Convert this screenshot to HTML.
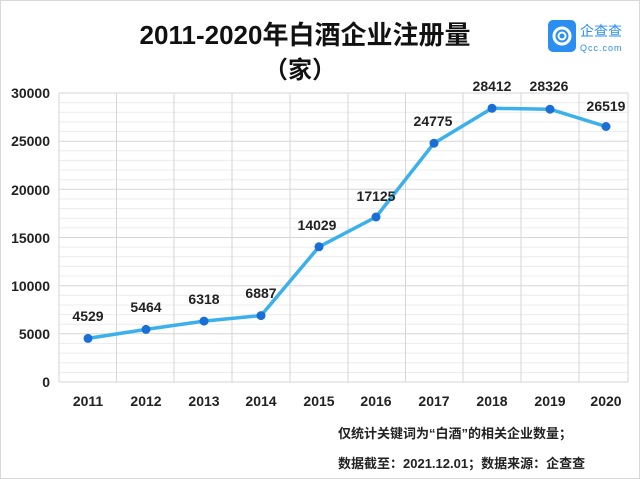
<!DOCTYPE html>
<html><head><meta charset="utf-8"><style>
body{margin:0;background:#fff;}
svg{display:block;font-family:"Liberation Sans","Noto Sans CJK SC",sans-serif;}
</style></head><body>
<svg width="640" height="479" viewBox="0 0 640 479">
<rect x="0.5" y="0.5" width="639" height="478" fill="#fff" stroke="#d8d8d8"/>
<text x="305" y="44" text-anchor="middle" font-size="26" font-weight="bold" fill="#111">2011-2020年白酒企业注册量</text>
<text x="300" y="78" text-anchor="middle" font-size="24" font-weight="bold" fill="#111">（家）</text>
<rect x="548" y="20" width="28" height="32" rx="5" fill="#2a8ff0"/>
<circle cx="562" cy="36" r="8" fill="none" stroke="#fff" stroke-width="3"/>
<circle cx="562" cy="36" r="3.5" fill="none" stroke="#fff" stroke-width="2"/>
<text x="580" y="36" font-size="14" fill="#2a8ff0">企查查</text>
<text x="580" y="51" font-size="9" fill="#2a8ff0" letter-spacing="1">Qcc.com</text>
<g stroke="#ececec" stroke-width="1">
<line x1="59" x2="628" y1="372.4" y2="372.4"/><line x1="59" x2="628" y1="362.7" y2="362.7"/><line x1="59" x2="628" y1="353.1" y2="353.1"/><line x1="59" x2="628" y1="343.5" y2="343.5"/>
<line x1="59" x2="628" y1="324.2" y2="324.2"/><line x1="59" x2="628" y1="314.6" y2="314.6"/><line x1="59" x2="628" y1="305" y2="305"/><line x1="59" x2="628" y1="295.3" y2="295.3"/>
<line x1="59" x2="628" y1="276" y2="276"/><line x1="59" x2="628" y1="266.4" y2="266.4"/><line x1="59" x2="628" y1="256.8" y2="256.8"/><line x1="59" x2="628" y1="247.1" y2="247.1"/>
<line x1="59" x2="628" y1="227.9" y2="227.9"/><line x1="59" x2="628" y1="218.2" y2="218.2"/><line x1="59" x2="628" y1="208.6" y2="208.6"/><line x1="59" x2="628" y1="199" y2="199"/>
<line x1="59" x2="628" y1="179.7" y2="179.7"/><line x1="59" x2="628" y1="170" y2="170"/><line x1="59" x2="628" y1="160.4" y2="160.4"/><line x1="59" x2="628" y1="150.8" y2="150.8"/>
<line x1="59" x2="628" y1="131.5" y2="131.5"/><line x1="59" x2="628" y1="121.9" y2="121.9"/><line x1="59" x2="628" y1="112.2" y2="112.2"/><line x1="59" x2="628" y1="102.6" y2="102.6"/>
</g>
<g stroke="#d6d6d6" stroke-width="1">
<line x1="59" x2="628" y1="333.8" y2="333.8"/><line x1="59" x2="628" y1="285.7" y2="285.7"/><line x1="59" x2="628" y1="237.5" y2="237.5"/><line x1="59" x2="628" y1="189.3" y2="189.3"/><line x1="59" x2="628" y1="141.2" y2="141.2"/><line x1="59" x2="628" y1="93" y2="93"/>
<line x1="59" x2="59" y1="93" y2="382"/><line x1="116.5" x2="116.5" y1="93" y2="382"/><line x1="174" x2="174" y1="93" y2="382"/><line x1="232" x2="232" y1="93" y2="382"/><line x1="290" x2="290" y1="93" y2="382"/><line x1="348" x2="348" y1="93" y2="382"/><line x1="405.5" x2="405.5" y1="93" y2="382"/><line x1="463" x2="463" y1="93" y2="382"/><line x1="521" x2="521" y1="93" y2="382"/><line x1="579" x2="579" y1="93" y2="382"/><line x1="628" x2="628" y1="93" y2="382"/>
<line x1="59" x2="628" y1="382" y2="382"/>
</g>
<g font-size="14" font-weight="bold" fill="#222" text-anchor="end">
<text x="50" y="387">0</text><text x="50" y="339">5000</text><text x="50" y="291">10000</text><text x="50" y="243">15000</text><text x="50" y="195">20000</text><text x="50" y="146">25000</text><text x="50" y="98">30000</text>
</g>
<g font-size="14" font-weight="bold" fill="#222" text-anchor="middle">
<text x="88" y="406">2011</text><text x="146" y="406">2012</text><text x="204" y="406">2013</text><text x="261" y="406">2014</text><text x="319" y="406">2015</text><text x="376" y="406">2016</text><text x="434" y="406">2017</text><text x="492" y="406">2018</text><text x="550" y="406">2019</text><text x="606" y="406">2020</text>
</g>
<polyline fill="none" stroke="#3bb0ea" stroke-width="3.5" stroke-linejoin="round" points="88,338.4 146,329.4 204,321.1 261,315.6 319,246.8 376,217 434,143.2 492,108.3 550,109.2 606,126.5"/>
<g fill="#1a6fd6">
<circle cx="88" cy="338.4" r="4.5"/><circle cx="146" cy="329.4" r="4.5"/><circle cx="204" cy="321.1" r="4.5"/><circle cx="261" cy="315.6" r="4.5"/><circle cx="319" cy="246.8" r="4.5"/><circle cx="376" cy="217" r="4.5"/><circle cx="434" cy="143.2" r="4.5"/><circle cx="492" cy="108.3" r="4.5"/><circle cx="550" cy="109.2" r="4.5"/><circle cx="606" cy="126.5" r="4.5"/>
</g>
<g font-size="14" font-weight="bold" fill="#222" text-anchor="middle">
<text x="88" y="321">4529</text><text x="146" y="312">5464</text><text x="204" y="304">6318</text><text x="261" y="298">6887</text><text x="317" y="230">14029</text><text x="376" y="201">17125</text><text x="433" y="126">24775</text><text x="492" y="91">28412</text><text x="549" y="91">28326</text><text x="606" y="111">26519</text>
</g>
<text x="338" y="438" font-size="13" font-weight="bold" fill="#222">仅统计关键词为“白酒”的相关企业数量；</text>
<text x="338" y="468" font-size="13" font-weight="bold" fill="#222">数据截至：2021.12.01；数据来源：企查查</text>
</svg>
</body></html>
